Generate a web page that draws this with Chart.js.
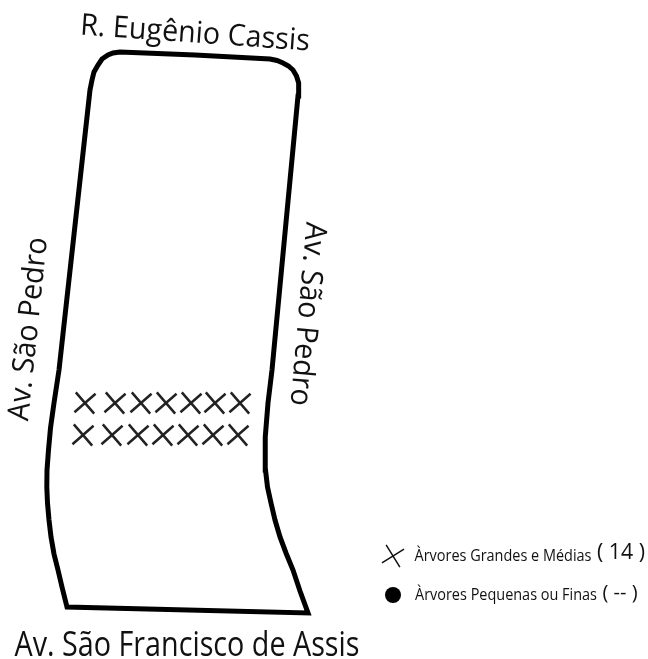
<!DOCTYPE html>
<html>
<head>
<meta charset="utf-8">
<script src="https://cdn.jsdelivr.net/npm/chart.js@4"></script>
<style>
html, body { margin: 0; padding: 0; background: #fff; }
canvas { display: block; }
</style>
</head>
<body>
<canvas id="chart" width="648" height="659"></canvas>
<script>
// contorno da quadra
const outlineX = [195, 120, 113, 108, 102, 98, 94, 92, 90, 59, 54, 50.5, 48.5, 47, 46.8, 47.5, 49, 51, 54, 58, 62, 67, 308, 300, 293, 286, 280, 275, 271, 267.5, 265.5, 265, 265.5, 268, 272, 298, 298.8, 298.5, 296.5, 293, 288.5, 283, 277, 270, 195];
const outlineY = [55, 52, 53, 55, 59, 65, 72, 80, 90, 370, 403, 428, 450, 470, 487, 503, 520, 537, 554, 570, 587, 607, 613, 591, 570, 553, 537, 520, 503, 487, 470, 452, 437, 403, 370, 96, 89, 83, 76, 70, 66, 63, 60.5, 59, 55];

// árvores grandes e médias
const treeX = [85, 115, 141, 166, 191, 215, 240, 83, 112, 138, 163, 188, 213, 238];
const treeY = [403, 403, 403, 403, 403, 403, 403, 435, 435, 435, 435, 435, 435, 435];

// marcadores da legenda
const legendCrossX = [393];
const legendCrossY = [556];
const legendDotX = [393];
const legendDotY = [595];

const streetNames = ['R. Eugênio Cassis', 'Av. São Pedro', 'Av. São Francisco de Assis'];
const legendNames = ['Àrvores Grandes e Médias', 'Àrvores Pequenas ou Finas'];
const legendCounts = ['( 14 )', '( -- )'];

function pontos(xs, ys) {
    return xs.map((x, i) => ({ x: x, y: ys[i] }));
}

// texto centrado e rodado, maxWidth estreita a fonte como na figura
function escrever(ctx, texto, x, y, graus, tamanho, largura) {
    ctx.save();
    ctx.translate(x, y);
    ctx.rotate(graus * Math.PI / 180);
    ctx.font = tamanho + 'px "Open Sans"';
    ctx.fillStyle = '#111';
    ctx.textAlign = 'center';
    ctx.textBaseline = 'middle';
    ctx.fillText(texto, 0, 0, largura);
    ctx.restore();
}

const textos = {
    id: 'textos',
    afterDraw(chart) {
        const ctx = chart.ctx;
        escrever(ctx, streetNames[0], 195, 34, 4, 30, 230);
        escrever(ctx, streetNames[1], 29, 329, -84, 30, 184);
        escrever(ctx, streetNames[1], 307, 314, 95, 30, 184);
        escrever(ctx, streetNames[2], 187, 646, 0, 34, 345);
        escrever(ctx, legendNames[0], 503, 556, 0, 17, 177);
        escrever(ctx, legendNames[1], 506, 595, 0, 17, 182);
        escrever(ctx, legendCounts[0], 621, 553, 0, 22, 48);
        escrever(ctx, legendCounts[1], 620, 593, 0, 20, 39);
    }
};

new Chart(document.getElementById('chart'), {
    type: 'scatter',
    data: {
        datasets: [
            {
                data: pontos(outlineX, outlineY),
                showLine: true,
                borderColor: '#000',
                borderWidth: 5,
                borderJoinStyle: 'miter',
                tension: 0,
                pointRadius: 0
            },
            {
                data: pontos(treeX, treeY),
                pointStyle: 'cross',
                pointRotation: 49,
                pointRadius: 14,
                pointBorderColor: '#222',
                pointBorderWidth: 2.5
            },
            {
                data: pontos(legendCrossX, legendCrossY),
                pointStyle: 'cross',
                pointRotation: 58,
                pointRadius: 13,
                pointBorderColor: '#111',
                pointBorderWidth: 1.5
            },
            {
                data: pontos(legendDotX, legendDotY),
                pointStyle: 'circle',
                pointRadius: 8,
                pointBackgroundColor: '#000',
                pointBorderColor: '#000',
                pointBorderWidth: 0
            }
        ]
    },
    options: {
        responsive: false,
        animation: false,
        layout: { padding: 0, autoPadding: false },
        plugins: { legend: { display: false }, tooltip: { enabled: false } },
        scales: {
            x: { type: 'linear', min: 0, max: 648, display: false },
            y: { type: 'linear', min: 0, max: 659, reverse: true, display: false }
        }
    },
    plugins: [textos]
});
</script>
</body>
</html>
